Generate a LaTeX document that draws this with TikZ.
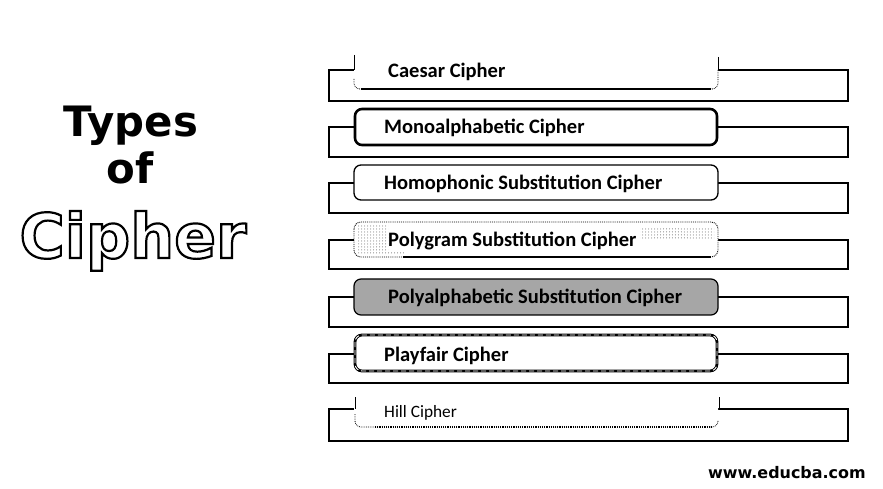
\documentclass[tikz,border=0pt]{standalone}
\usepackage{fontspec}
\newfontfamily\carlito{Carlito}
\newfontfamily\dejavu{DejaVu Sans}
\usetikzlibrary{patterns}
\begin{document}
\begin{tikzpicture}[x=1bp,y=-1bp,
  outer/.style={line width=1.1bp},
  lbl/.style={font=\carlito\bfseries\fontsize{20.6}{24}\selectfont, anchor=base west, inner sep=0pt},
  thinlbl/.style={font=\carlito\fontsize{17.4}{20}\selectfont, anchor=base west, inner sep=0pt},
  stub/.style={line width=0.9bp},
  dotline/.style={densely dotted, line width=0.8bp, rounded corners=6bp},
  boxshape/.style={rounded corners=7bp}
  ]
\useasboundingbox (0,0) rectangle (883,489);
% outer rectangles
\foreach \t/\b in {70/101,127/157,183/213,240/269,297/327,354/383,409/441}
  {\draw[outer] (329,\t) rectangle (848,\b);}
% 1 Caesar
\fill[white, boxshape] (354,53) rectangle (718,89);
\draw[stub] (354,55) -- (354,70);
\draw[stub] (718,57) -- (718,70);
\draw[dotline] (354,79) |- (372,89);
\draw[dotline] (718,70) |- (700,89);
\draw[line width=1.8bp] (361,89) -- (711,89);
\node[lbl] (t1) at (388,78) {Caesar Cipher};
% 2 Mono
\draw[line width=2.6bp, fill=white, boxshape] (355,109) rectangle (717,145);
\node[lbl] (t2) at (384,134) {Monoalphabetic Cipher};
% 3 Homophonic
\draw[line width=1.3bp, fill=white, boxshape] (354,165) rectangle (718,200);
\node[lbl] (t3) at (384,190) {Homophonic Substitution Cipher};
% 4 Polygram
\draw[densely dotted, line width=0.9bp, fill=white, boxshape] (354,222) rectangle (718,257);
\fill[pattern=dots, pattern color=black!60] (358,226) rectangle (388,251);
\fill[pattern=dots, pattern color=black!60] (640,229) rectangle (714,239);
\fill[pattern=dots, pattern color=black!60] (358,251) rectangle (404,255);
\draw[line width=1.8bp] (403,257) -- (711,257);
\node[lbl] (t4) at (388,247) {Polygram Substitution Cipher};
% 5 Polyalphabetic
\draw[line width=1.2bp, fill=black!35, boxshape] (354,279) rectangle (718,315);
\node[lbl] (t5) at (388,304) {Polyalphabetic Substitution Cipher};
% 6 Playfair
\draw[line width=2.8bp, fill=white, boxshape] (355,335) rectangle (717,371);
\draw[white, line width=0.9bp, dash pattern=on 5bp off 3bp, boxshape] (355,335) rectangle (717,371);
\node[lbl] (t6) at (384,361) {Playfair Cipher};
% 7 Hill
\fill[white, boxshape] (354,397) rectangle (718,427);
\draw[stub] (355,397) -- (355,409);
\draw[stub] (719,397) -- (719,409);
\draw[dotline] (355,414) |- (380,427);
\draw[densely dotted, line width=1.2bp] (375,427) -- (712,427);
\draw[dotline] (718,421) |- (710,427);
\node[thinlbl] (t7) at (384,417) {Hill Cipher};
% title
\node[font=\dejavu\bfseries\fontsize{42}{48}\selectfont, anchor=base, inner sep=0pt] (types) at (131,137) {Types};
\node[font=\dejavu\bfseries\fontsize{42}{48}\selectfont, anchor=base, inner sep=0pt] (of) at (130,184) {of};
\node[font=\dejavu\bfseries\fontsize{62}{66}\selectfont, anchor=base, inner sep=0pt] (cipher) at (133,258)
  {\special{pdf:literal direct 1 Tr 2.2 w}Cipher\special{pdf:literal direct 0 Tr 1 w}};
% url
\node[font=\dejavu\bfseries\fontsize{16}{18}\selectfont, anchor=base west, inner sep=0pt] (url) at (708,478) {www.educba.com};
\end{tikzpicture}
\end{document}
